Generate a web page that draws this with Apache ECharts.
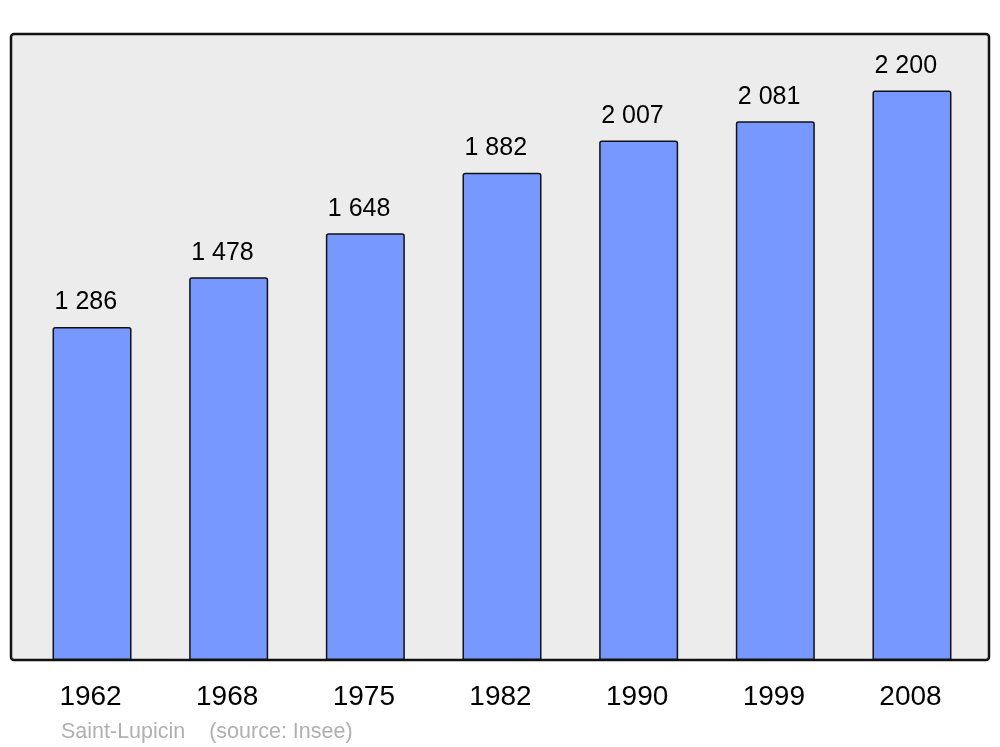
<!DOCTYPE html>
<html>
<head>
<meta charset="utf-8">
<script src="https://cdn.jsdelivr.net/npm/echarts@6/dist/echarts.min.js"></script>
<style>html,body{margin:0;padding:0;background:#fff}#c{width:1000px;height:747px}</style>
</head>
<body>
<div id="c"></div>
<script>
const years = ['1962', '1968', '1975', '1982', '1990', '1999', '2008'];
const population = [1286, 1478, 1648, 1882, 2007, 2081, 2200];
const footnote = 'Saint-Lupicin    (source: Insee)';

function fmt(v) {
  return String(v).replace(/\B(?=(\d{3})+(?!\d))/g, ' ');
}

const chart = echarts.init(document.getElementById('c'), null, {renderer: 'canvas'});
chart.setOption({
  animation: false,
  backgroundColor: '#ffffff',
  textStyle: {fontFamily: 'Liberation Sans, Arial, sans-serif'},
  grid: {left: 23.7, right: 19.7, top: 34, bottom: 87, containLabel: false},
  graphic: [
    {type: 'rect', z: -10, shape: {x: 11, y: 34, width: 978, height: 626, r: 3},
     style: {fill: '#ececec', stroke: '#111111', lineWidth: 2.5}},
    {type: 'text', left: 61, top: 721,
     style: {text: footnote, fill: '#b0b0b0', font: '21.5px "Liberation Sans", Arial, sans-serif'}}
  ],
  xAxis: {
    type: 'category', data: years,
    axisLine: {show: false}, axisTick: {show: false},
    axisLabel: {color: '#000', fontSize: 28, margin: 23, padding: [0, 3, 0, 0], fontFamily: 'Liberation Sans'}
  },
  yAxis: {
    type: 'value', min: 0, max: 2418, show: false, splitLine: {show: false}
  },
  series: [{
    type: 'bar', data: population, barWidth: 79,
    itemStyle: {color: '#7799ff', borderColor: '#111', borderWidth: 1.5, borderRadius: [2, 2, 0, 0]},
    label: {show: true, position: 'top', distance: 12, color: '#000', fontSize: 25,
            align: 'left', offset: [-37.5, 0],
            fontFamily: 'Liberation Sans', formatter: p => fmt(p.value)}
  }]
});
</script>
</body>
</html>
